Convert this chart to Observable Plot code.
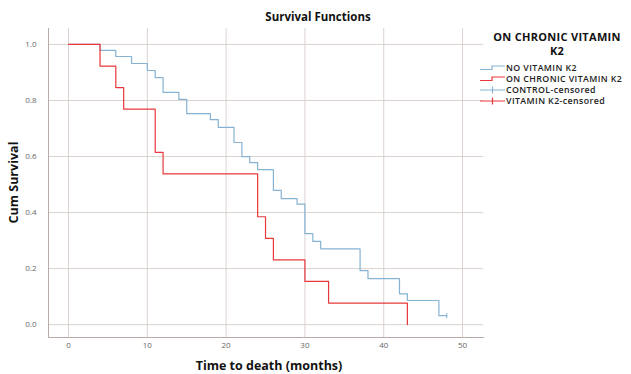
<!DOCTYPE html>
<html>
<head>
<meta charset="utf-8">
<script src="https://cdn.jsdelivr.net/npm/d3@7"></script>
<script src="https://cdn.jsdelivr.net/npm/@observablehq/plot@0.6"></script>
<style>
  html, body { margin: 0; padding: 0; background: #fff; }
  #chart { position: relative; width: 631px; height: 374px; }
  svg text { font-family: "Open Sans", "DejaVu Sans", sans-serif; }
</style>
</head>
<body>
<div id="chart"></div>
<script>
// ---- Data ----
const title = "Survival Functions";
const xLabel = "Time to death (months)";
const yLabel = "Cum Survival";
const legendTitle = ["ON CHRONIC VITAMIN", "K2"];
const legendLabels = ["NO VITAMIN K2", "ON CHRONIC VITAMIN K2", "CONTROL-censored", "VITAMIN K2-censored"];
const xTicks = [0, 10, 20, 30, 40, 50];
const yTicks = [0, 0.2, 0.4, 0.6, 0.8, 1.0];

// NO VITAMIN K2 (control)
const controlTime = [0, 4, 6, 8, 10, 11, 12, 14, 15, 18, 19, 21, 22, 23, 24, 26, 27, 29, 30, 31, 32, 37, 38, 42, 43, 47, 48];
const controlSurv = [1, 0.979, 0.957, 0.932, 0.907, 0.882, 0.829, 0.804, 0.753, 0.732, 0.704, 0.65, 0.60, 0.578, 0.553, 0.479, 0.45, 0.43, 0.325, 0.297, 0.27, 0.193, 0.164, 0.11, 0.086, 0.032, 0.032];
// ON CHRONIC VITAMIN K2
const vitTime = [0, 4, 6, 7, 11, 12, 24, 25, 26, 30, 33, 43];
const vitSurv = [1, 0.923, 0.846, 0.769, 0.615, 0.538, 0.385, 0.308, 0.231, 0.154, 0.077, 0];
// censored observations
const controlCensTime = [48];
const controlCensSurv = [0.032];

const blue = "#86b3d3";
const red = "#e8383c";
const grid = "#dcd3cf";

const control = controlTime.map((t, i) => ({t, s: controlSurv[i]}));
const vit = vitTime.map((t, i) => ({t, s: vitSurv[i]}));
const cens = controlCensTime.map((t, i) => ({t, s: controlCensSurv[i]}));

// vertical tick symbol for censor marks
const vtick = {draw(ctx, size) { const r = Math.sqrt(size) / 2; ctx.moveTo(0, -r); ctx.lineTo(0, r); }};

const W = 631, H = 374;
const mL = 48, mR = 148, mT = 28, mB = 37;

const chart = Plot.plot({
  width: W, height: H,
  marginLeft: mL, marginRight: mR, marginTop: mT, marginBottom: mB,
  style: {fontFamily: "'Open Sans', sans-serif", fontSize: "8px", color: "#666", background: "#fff"},
  x: {type: "linear", domain: [-2.54, 52.66]},
  y: {type: "linear", domain: [-0.046, 1.057]},
  marks: [
    Plot.gridX(xTicks, {stroke: grid, strokeOpacity: 1, strokeWidth: 1}),
    Plot.gridY(yTicks, {stroke: grid, strokeOpacity: 1, strokeWidth: 1}),
    Plot.axisX(xTicks, {tickSize: 0, tickPadding: 5, tickFormat: d3.format("d"), label: null, fill: "#666"}),
    Plot.axisY(yTicks, {tickSize: 0, tickPadding: 12, tickFormat: d3.format(".1f"), label: null, fill: "#666"}),
    Plot.frame({anchor: "left", stroke: "#b9aca8", strokeOpacity: 1}),
    Plot.frame({anchor: "bottom", stroke: "#b9aca8", strokeOpacity: 1}),
    Plot.line(control, {x: "t", y: "s", curve: "step-after", stroke: blue, strokeWidth: 1.2}),
    Plot.line(vit, {x: "t", y: "s", curve: "step-after", stroke: red, strokeWidth: 1.2}),
    Plot.dot(cens, {x: "t", y: "s", symbol: vtick, r: 3, stroke: blue, strokeWidth: 1, fill: "none"})
  ]
});
document.getElementById("chart").appendChild(chart);

const svg = d3.select(chart);

// Titles
svg.append("text").attr("x", 318).attr("y", 21).attr("text-anchor", "middle")
  .attr("font-size", 11.5).attr("font-weight", "bold").attr("fill", "#111").text(title);
svg.append("text").attr("x", 269).attr("y", 370).attr("text-anchor", "middle")
  .attr("font-size", 12.5).attr("font-weight", "bold").attr("fill", "#111").text(xLabel);
svg.append("text").attr("transform", `translate(18,${(mT + H - mB) / 2}) rotate(-90)`).attr("text-anchor", "middle")
  .attr("font-size", 12.5).attr("font-weight", "bold").attr("fill", "#111").text(yLabel);

// Legend
const lg = svg.append("g");
legendTitle.forEach((t, i) => {
  lg.append("text").attr("x", 557).attr("y", 41 + i * 14).attr("text-anchor", "middle")
    .attr("font-size", 11).attr("font-weight", "bold").attr("letter-spacing", "0.3px").attr("fill", "#111").text(t);
});
const itemY = [68, 79, 90, 101];
const itemCol = [blue, red, blue, red];
legendLabels.forEach((lab, i) => {
  const y = itemY[i];
  if (i < 2) {
    lg.append("path").attr("d", `M480,${y + 1.5}H492V${y - 2}H505`).attr("fill", "none").attr("stroke", itemCol[i]).attr("stroke-width", 1.2);
  } else {
    lg.append("path").attr("d", `M480,${y}H505M492.5,${y - 3.5}V${y + 3.5}`).attr("fill", "none").attr("stroke", itemCol[i]).attr("stroke-width", 1.2);
  }
  lg.append("text").attr("x", 506).attr("y", y + 3.2).attr("text-anchor", "start")
    .attr("font-size", 8.8).attr("font-weight", 600).attr("letter-spacing", "0.4px").attr("fill", "#222").text(lab);
});
</script>
</body>
</html>
